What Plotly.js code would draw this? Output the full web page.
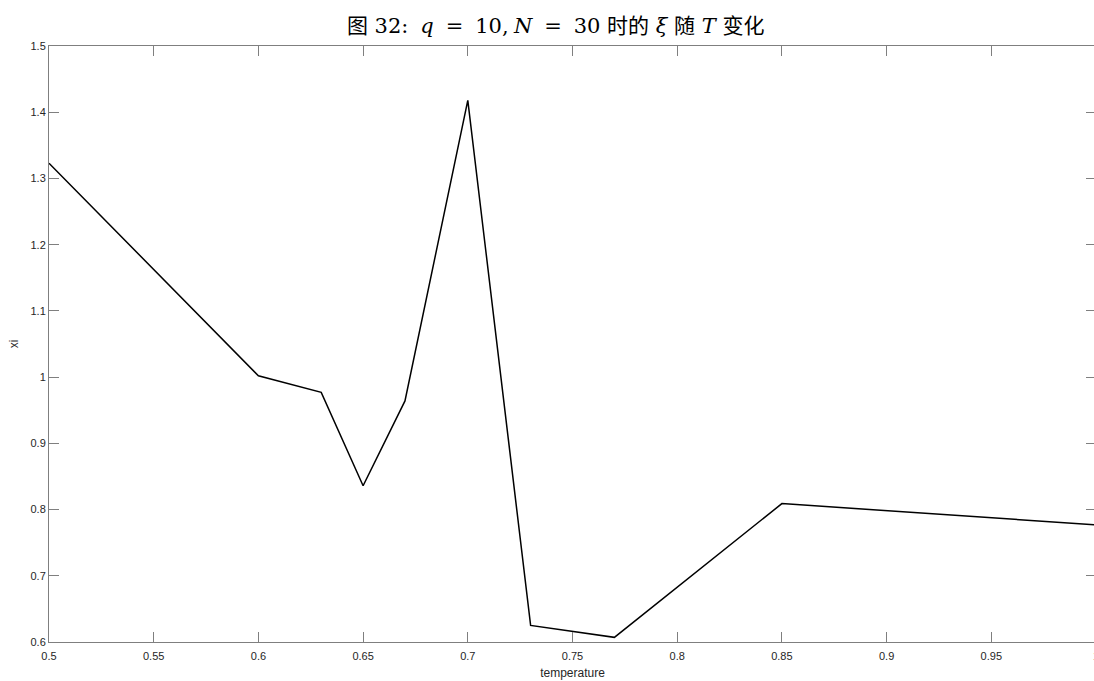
<!DOCTYPE html>
<html>
<head>
<meta charset="utf-8">
<script src="https://cdn.plot.ly/plotly-3.0.1.min.js"></script>
<style>
html,body{margin:0;padding:0;overflow:hidden;background:#fff;}
#chart{width:1096px;height:681px;}
</style>
</head>
<body>
<div id="chart"></div>
<script>
const temperature = [0.5, 0.6, 0.63, 0.65, 0.67, 0.7, 0.73, 0.77, 0.85, 1.0];
const xi = [1.323, 1.002, 0.977, 0.836, 0.964, 1.418, 0.625, 0.607, 0.809, 0.777];
const xTicks = [0.5, 0.55, 0.6, 0.65, 0.7, 0.75, 0.8, 0.85, 0.9, 0.95, 1];
const xTickLabels = ['0.5','0.55','0.6','0.65','0.7','0.75','0.8','0.85','0.9','0.95','1'];
const yTicks = [0.6, 0.7, 0.8, 0.9, 1.0, 1.1, 1.2, 1.3, 1.4, 1.5];
const yTickLabels = ['0.6','0.7','0.8','0.9','1','1.1','1.2','1.3','1.4','1.5'];

const axisCommon = {
  showline: true, linecolor: '#7f7f7f', linewidth: 1,
  mirror: 'ticks', ticks: 'inside', ticklen: 10, tickwidth: 1, tickcolor: '#7f7f7f',
  showgrid: false, zeroline: false, automargin: false,
  ticklabeloverflow: 'allow',
  tickfont: {family: 'Liberation Sans, Arial, sans-serif', size: 11, color: '#262626'}
};

const sp = '&#8197;';
const layout = {
  width: 1096, height: 681,
  margin: {l: 49, r: 0, t: 46, b: 39},
  paper_bgcolor: '#fff', plot_bgcolor: '#fff',
  showlegend: false,
  title: {
    text: '图 32:' + sp + ' <i>q</i>' + sp + ' =' + sp + ' 10,' + sp + '<i>N</i>' + sp + ' =' + sp + ' 30 时的 <i>ξ</i> 随 <i>T</i> 变化',
    font: {family: 'DejaVu Serif, Noto Sans CJK SC, serif', size: 21, color: '#000'},
    x: 0.507, xanchor: 'center', y: 0.963, yanchor: 'middle'
  },
  xaxis: Object.assign({}, axisCommon, {
    range: [0.5, 1.0], tickvals: xTicks, ticktext: xTickLabels,
    ticklabelstandoff: 4,
    title: {text: 'temperature', font: {family: 'Liberation Sans, Arial, sans-serif', size: 12, color: '#262626'}, standoff: 7}
  }),
  yaxis: Object.assign({}, axisCommon, {
    range: [0.6, 1.5], tickvals: yTicks, ticktext: yTickLabels,
    title: {text: 'xi', font: {family: 'Liberation Sans, Arial, sans-serif', size: 12, color: '#262626'}, standoff: 9}
  })
};

Plotly.newPlot('chart', [{
  x: temperature, y: xi, type: 'scatter', mode: 'lines',
  line: {color: '#000', width: 1.5}
}], layout, {displayModeBar: false, staticPlot: true});
</script>
</body>
</html>
